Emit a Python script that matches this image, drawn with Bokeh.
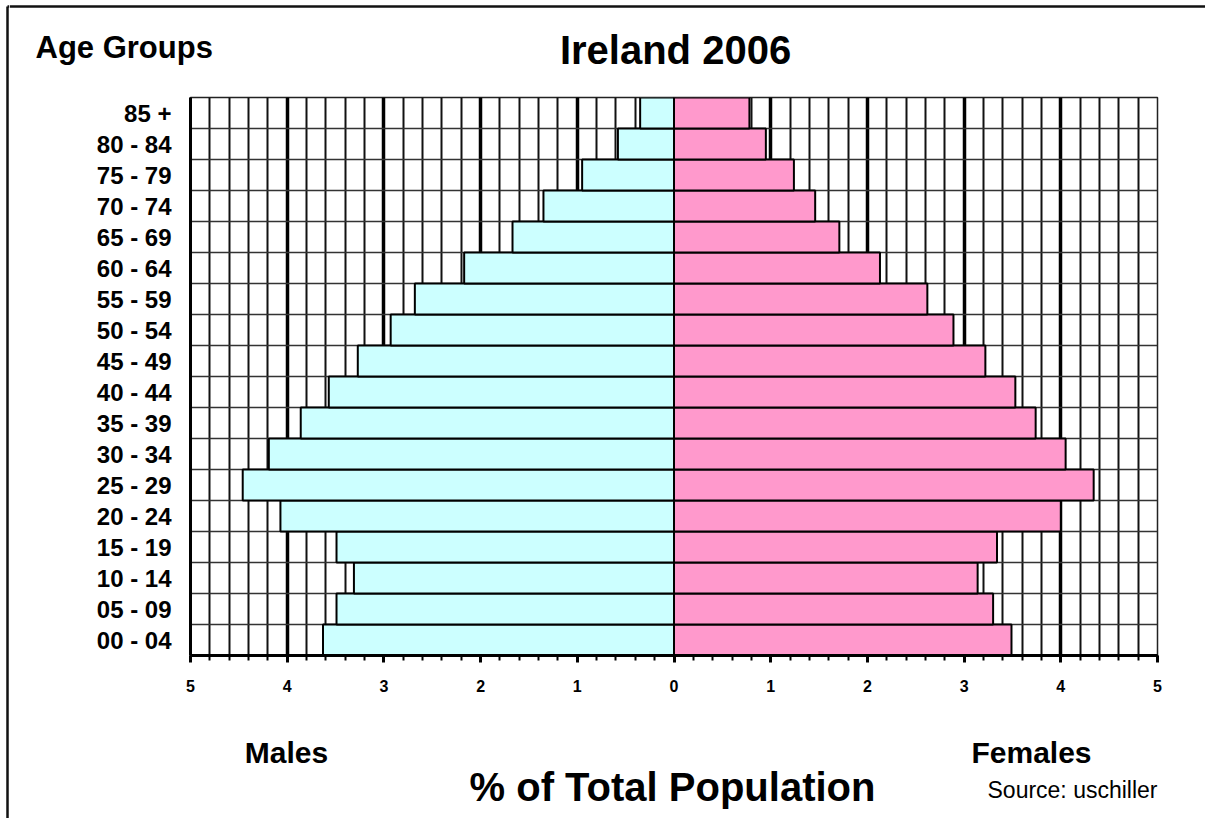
from bokeh.plotting import figure
from bokeh.models import FixedTicker, Range1d
from bokeh.layouts import column, row
from bokeh.core.properties import value
from bokeh.embed import file_html
from bokeh.resources import INLINE

# ---- data (bottom to top) ----
age_groups = ["00 - 04", "05 - 09", "10 - 14", "15 - 19", "20 - 24", "25 - 29",
              "30 - 34", "35 - 39", "40 - 44", "45 - 49", "50 - 54", "55 - 59",
              "60 - 64", "65 - 69", "70 - 74", "75 - 79", "80 - 84", "85 +"]
males = [3.63, 3.49, 3.31, 3.49, 4.07, 4.46, 4.19, 3.86, 3.57, 3.27,
         2.93, 2.68, 2.17, 1.67, 1.35, 0.95, 0.58, 0.35]
females = [3.49, 3.30, 3.14, 3.34, 4.00, 4.34, 4.05, 3.74, 3.53, 3.22,
           2.89, 2.62, 2.13, 1.71, 1.46, 1.24, 0.95, 0.78]
x_ticks = [-5, -4, -3, -2, -1, 0, 1, 2, 3, 4, 5]
x_tick_labels = ["5", "4", "3", "2", "1", "0", "1", "2", "3", "4", "5"]

title_text = "Ireland 2006"
y_title_text = "Age Groups"
x_title_text = "% of Total Population"
left_side_text = "Males"
right_side_text = "Females"
source_text = "Source: uschiller"

FONT = "Liberation Sans"
W, H = 1205, 818
STRIP = 9
TOP_H, MAIN_H = 90, 610
BOT_H = H - TOP_H - MAIN_H
BORDER_W = 2.5


def no_align(f):
    try:
        f.frame_align = False
    except AttributeError:
        pass


def blank(width, height, x0, x1, y0, y1):
    f = figure(width=width, height=height, x_range=Range1d(x0, x1), y_range=Range1d(y1, y0),
               output_backend="svg", toolbar_location=None,
               min_border=0, min_border_left=0, min_border_right=0,
               min_border_top=0, min_border_bottom=0)
    f.axis.visible = False
    f.grid.visible = False
    f.outline_line_color = None
    f.background_fill_color = "white"
    f.border_fill_color = "white"
    no_align(f)
    return f


def txt(f, x, y, s, size, bold=True, align="center"):
    # y is the wanted baseline; compensate the renderer's baseline shift
    yy = y - 0.33 * size
    f.text(x=[x], y=[yy], text=[s], text_font=value(FONT), text_font_size=f"{size}px",
           text_font_style="bold" if bold else "normal", text_align=align,
           text_baseline="alphabetic", text_color="black")


# ---- left strip with the outer frame line ----
strip = blank(STRIP, H, 0, STRIP, 0, H)
strip.segment(x0=[7, 7], y0=[6, 6], x1=[7, STRIP], y1=[H, 6], line_color="#111", line_width=BORDER_W)

# ---- top texts ----
top = blank(W - STRIP, TOP_H, STRIP, W, 0, TOP_H)
top.segment(x0=[STRIP], y0=[6], x1=[W], y1=[6], line_color="#111", line_width=BORDER_W)
txt(top, 35, 57, y_title_text, 31, align="left")
txt(top, 675, 63, title_text, 40)

# ---- main chart ----
n = len(age_groups)
centers = [i + 0.5 for i in range(n)]

p = figure(width=W - STRIP, height=MAIN_H, x_range=Range1d(-5, 5), y_range=Range1d(0, n),
           output_backend="svg", toolbar_location=None,
           min_border_left=190 - STRIP, min_border_right=W - 1157,
           min_border_top=97 - TOP_H, min_border_bottom=MAIN_H - (97 - TOP_H) - 558)
no_align(p)
p.background_fill_color = "white"
p.border_fill_color = "white"
p.outline_line_color = "#222"
p.outline_line_width = 1.5

p.hbar(y=centers, left=[-v for v in males], right=0, height=1,
       fill_color="#CCFFFF", line_color="black", line_width=2)
p.hbar(y=centers, left=0, right=females, height=1,
       fill_color="#FF99CC", line_color="black", line_width=2)

minor = [round(-5 + 0.2 * i, 2) for i in range(51)]
p.xaxis.ticker = FixedTicker(ticks=x_ticks, minor_ticks=minor)
p.xaxis.major_label_overrides = {t: s for t, s in zip(x_ticks, x_tick_labels)}
p.xaxis.axis_line_width = 3
p.xaxis.axis_line_color = "black"
p.xaxis.major_tick_in = 0
p.xaxis.major_tick_out = 7
p.xaxis.major_tick_line_width = 3
p.xaxis.minor_tick_in = 0
p.xaxis.minor_tick_out = 5
p.xaxis.minor_tick_line_width = 2
p.xaxis.major_label_standoff = 17
p.xaxis.major_label_text_font = FONT
p.xaxis.major_label_text_font_style = "bold"
p.xaxis.major_label_text_font_size = "16px"
p.xaxis.major_label_text_color = "black"

p.yaxis.ticker = FixedTicker(ticks=centers, minor_ticks=[])
p.yaxis.major_label_overrides = {c: g for c, g in zip(centers, age_groups)}
p.yaxis.axis_line_width = 3
p.yaxis.axis_line_color = "black"
p.yaxis.major_tick_line_color = None
p.yaxis.minor_tick_line_color = None
p.yaxis.major_tick_in = 0
p.yaxis.major_tick_out = 0
p.yaxis.major_label_standoff = 19
p.yaxis.major_label_text_font = FONT
p.yaxis.major_label_text_font_style = "bold"
p.yaxis.major_label_text_font_size = "24px"
p.yaxis.major_label_text_color = "black"

p.xgrid.grid_line_color = "black"
p.xgrid.grid_line_width = 3.5
p.xgrid.minor_grid_line_color = "#111"
p.xgrid.minor_grid_line_width = 2
p.ygrid.ticker = FixedTicker(ticks=list(range(n + 1)))
p.ygrid.grid_line_color = "#333"
p.ygrid.grid_line_width = 1.5

# ---- bottom texts ----
bot = blank(W - STRIP, BOT_H, STRIP, W, 0, BOT_H)
txt(bot, 286, 62, left_side_text, 30)
txt(bot, 1031, 62, right_side_text, 30)
txt(bot, 672, 100, x_title_text, 40)
txt(bot, 987, 97, source_text, 23, bold=False, align="left")

layout = row(strip, column(top, p, bot, spacing=0), spacing=0)
open("out.html", "w").write(file_html(layout, INLINE))
